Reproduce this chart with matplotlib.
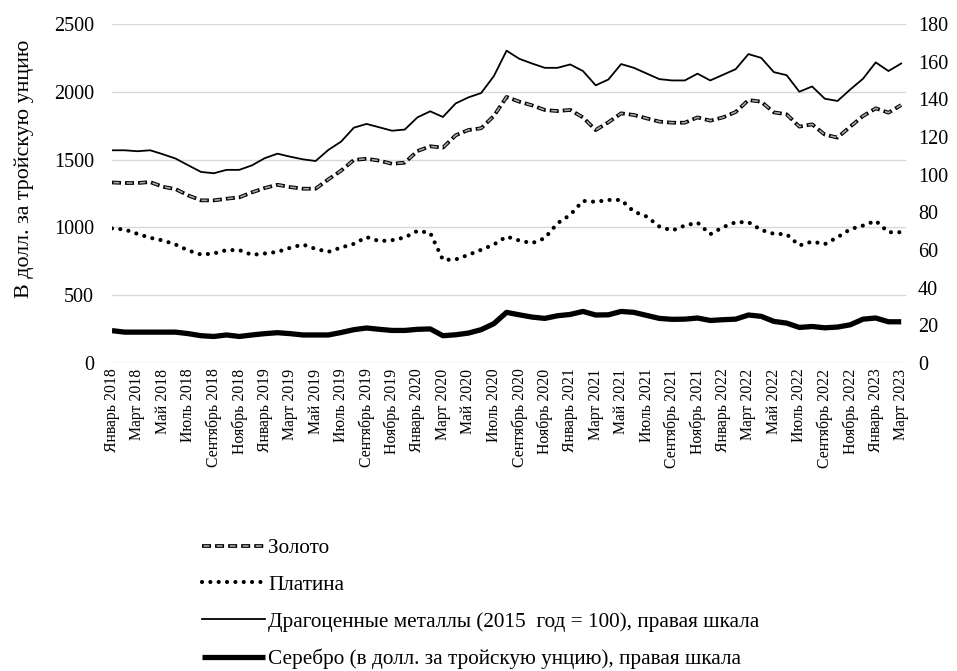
import matplotlib
matplotlib.use('Agg')
import matplotlib.pyplot as plt

plt.rcParams['font.family'] = ['Liberation Serif', 'DejaVu Serif']
plt.rcParams['lines.scale_dashes'] = False

# Месяцы: январь 2018 - март 2023
nazvaniya = ['Январь', 'Февраль', 'Март', 'Апрель', 'Май', 'Июнь',
             'Июль', 'Август', 'Сентябрь', 'Октябрь', 'Ноябрь', 'Декабрь']
gody = [2018, 2019, 2020, 2021, 2022, 2023]
mesyacy = [f'{m} {g}' for g in gody for m in nazvaniya][:63]

zoloto = [1332, 1328, 1328, 1335, 1300, 1283, 1236, 1200, 1200, 1212, 1222, 1259,
          1291, 1315, 1298, 1286, 1286, 1355, 1419, 1498, 1507, 1493, 1470, 1478,
          1564, 1599, 1589, 1680, 1719, 1732, 1823, 1963, 1928, 1901, 1867, 1859,
          1867, 1812, 1719, 1776, 1842, 1830, 1805, 1781, 1773, 1773, 1812, 1788,
          1812, 1852, 1940, 1928, 1849, 1835, 1744, 1761, 1685, 1663, 1744, 1822,
          1879, 1847, 1903]

platina = [993, 985, 953, 924, 904, 874, 830, 800, 808, 833, 833, 798,
           808, 820, 850, 874, 842, 820, 852, 879, 929, 899, 906, 926,
           975, 960, 761, 764, 798, 835, 874, 933, 904, 884, 921, 1031,
           1093, 1196, 1189, 1203, 1203, 1117, 1081, 1007, 977, 1014, 1036, 950,
           1002, 1039, 1039, 982, 953, 950, 867, 896, 877, 928, 987, 1014,
           1049, 965, 965]

indeks = [113.0, 113.0, 112.5, 113.0, 110.9, 108.6, 105.0, 101.5, 100.8, 102.6, 102.6, 105.0,
          108.8, 111.2, 109.6, 108.2, 107.3, 113.2, 117.6, 125.0, 127.0, 125.2, 123.4, 124.0,
          130.5, 133.7, 130.7, 137.9, 141.1, 143.4, 152.4, 165.9, 161.6, 159.1, 156.8, 156.8,
          158.6, 155.1, 147.5, 150.6, 158.8, 156.8, 153.8, 150.8, 150.1, 150.1, 153.7, 150.1,
          153.1, 156.1, 164.1, 162.1, 154.5, 152.9, 144.1, 146.9, 140.4, 139.2, 145.3, 151.0,
          159.7, 155.1, 159.1]

serebro = [17.2, 16.4, 16.4, 16.4, 16.4, 16.4, 15.6, 14.5, 14.1, 14.9, 14.1, 14.9,
           15.6, 16.1, 15.6, 14.9, 14.9, 14.9, 16.2, 17.7, 18.6, 17.9, 17.3, 17.3,
           17.9, 18.1, 14.5, 15.0, 15.9, 17.7, 20.9, 26.9, 25.6, 24.4, 23.7, 25.1,
           25.8, 27.4, 25.5, 25.6, 27.4, 26.9, 25.3, 23.7, 23.2, 23.3, 23.9, 22.6,
           23.0, 23.3, 25.5, 24.8, 22.1, 21.2, 18.9, 19.4, 18.7, 19.1, 20.3, 23.3,
           23.9, 21.9, 21.9]

x = list(range(len(mesyacy)))

fig = plt.figure(figsize=(9.57, 6.71), dpi=100)
ax = fig.add_axes([0.117, 0.459, 0.830, 0.505])
ax2 = ax.twinx()

# Золото - двойная пунктирная линия
z1, = ax.plot(x, zoloto, color='black', lw=2.7, linestyle=(0, (6.5, 2.9)))
z2, = ax.plot(x, zoloto, color='#a6a6a6', lw=1.2, linestyle=(8.3, (4.3, 5.1)))
# Платина - точки
p1, = ax.plot(x, platina, color='black', lw=3.0, linestyle=(0, (0.01, 6.0)),
              dash_capstyle='round')

i1, = ax2.plot(x, indeks, color='black', lw=1.3)
s1, = ax2.plot(x, serebro, color='black', lw=3.8, solid_capstyle='butt')

ax.set_ylim(0, 2500)
ax.set_yticks(range(0, 2501, 500))
ax2.set_ylim(0, 180)
ax2.set_yticks(range(0, 181, 20))
ax.set_xlim(0, 62.4)

ax.grid(axis='y', color='#d9d9d9', lw=1)
ax.set_axisbelow(True)
for a in (ax, ax2):
    for s in a.spines.values():
        s.set_visible(False)
    a.tick_params(length=0, labelsize=14.5)

ax.set_xticks(x[::2])
ax.set_xticklabels(mesyacy[::2], rotation=90, fontsize=11.3)
ax.tick_params(axis='x', pad=4)
ax.tick_params(axis='y', pad=13)
ax2.tick_params(axis='y', pad=8.5)
ax.set_ylabel('В долл. за тройскую унцию', fontsize=15.8)
ax.yaxis.set_label_coords(-0.098, 0.572)

fig.legend([(z1, z2), p1, i1, s1],
           ['Золото', 'Платина',
            'Драгоценные металлы (2015  год = 100), правая шкала',
            'Серебро (в долл. за тройскую унцию), правая шкала'],
           loc='upper left', bbox_to_anchor=(0.211, 0.198), frameon=False,
           fontsize=15.3, handlelength=2.96, handletextpad=0.15, labelspacing=0.8,
           borderaxespad=0, borderpad=0)

fig.savefig('out.png', dpi=100)
